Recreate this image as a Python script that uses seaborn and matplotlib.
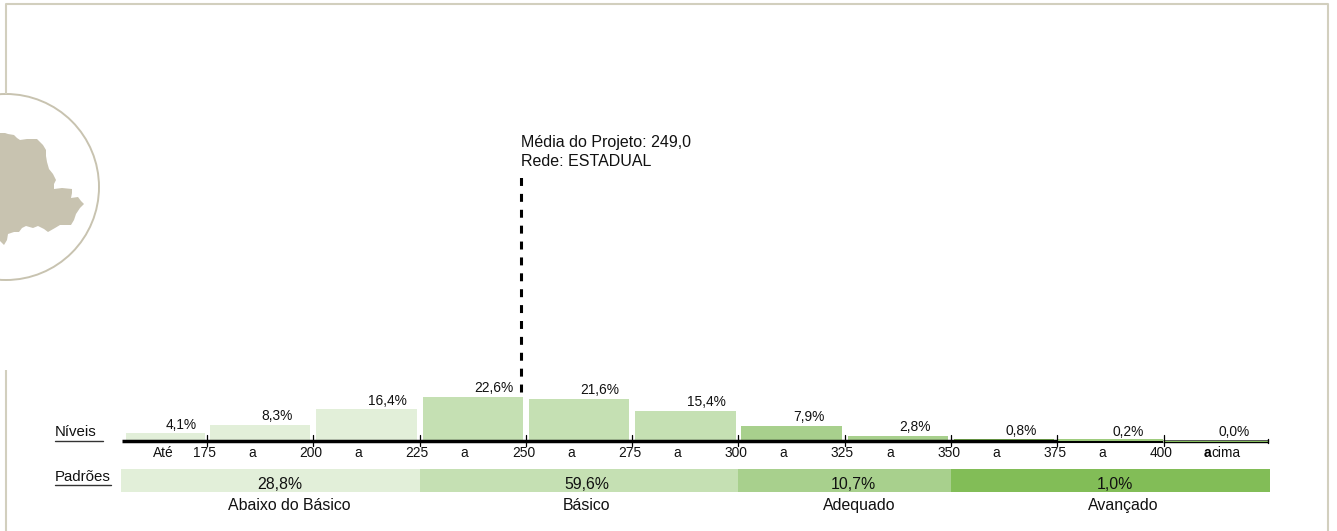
import matplotlib
matplotlib.use("Agg")
import matplotlib.pyplot as plt
from matplotlib.patches import Circle, Polygon
import pandas as pd
import seaborn as sns

sns.set_theme(style="white")
plt.rcParams["font.family"] = ["Liberation Sans", "DejaVu Sans"]

# ---- data ----
bin_labels = ["Até 175", "175-200", "200-225", "225-250", "250-275",
              "275-300", "300-325", "325-350", "350-375", "375-400", "acima"]
bin_values = [4.1, 8.3, 16.4, 22.6, 21.6, 15.4, 7.9, 2.8, 0.8, 0.2, 0.0]
bin_text = ["4,1%", "8,3%", "16,4%", "22,6%", "21,6%", "15,4%", "7,9%", "2,8%", "0,8%", "0,2%", "0,0%"]
bin_groups = ["a", "a", "a", "b", "b", "b", "c", "c", "d", "d", "d"]
tick_scores = [175, 200, 225, 250, 275, 300, 325, 350, 375, 400]
connector_labels = ["Até", "a", "a", "a", "a", "a", "a", "a", "a", "a"]
level_names = ["Abaixo do Básico", "Básico", "Adequado", "Avançado"]
level_pct = ["28,8%", "59,6%", "10,7%", "1,0%"]
level_start = [154.8, 225, 300, 350]
level_end = [225, 300, 350, 425]
level_colors = ["#e2efd9", "#c5e0b3", "#a8d08d", "#82bd57"]
mean_score = 248.9
mean_text = ["Média do Projeto: 249,0", "Rede: ESTADUAL"]

# ---- layout (pixels) ----
W, H = 1337, 531
PX_PER_SCORE = 106.3 / 25
PX_PER_PCT = 1.95
X175, Y0 = 207.0, 441.0
PCT_LABEL_PX = [279.5, 587, 853, 1115]
NAME_LABEL_PX = [289.5, 586, 859, 1123.5]
frame_color = "#d2cfbe"
map_color = "#c8c3b0"
MAP_OUTLINE = [(-5, 133), (5, 133), (8, 134), (14, 135), (17, 138), (20, 140), (27, 139), (37, 139), (40, 142),
               (43, 145), (46, 150), (46, 156), (47, 162), (49, 169), (53, 174), (56, 180), (54, 184), (54, 189),
               (62, 188), (72, 189), (72, 193), (71, 198), (78, 197), (81, 201), (84, 204), (80, 208), (76, 214),
               (74, 220), (71, 225), (60, 225), (55, 228), (48, 232), (44, 229), (38, 226), (33, 228), (26, 226),
               (22, 228), (19, 232), (14, 232), (8, 234), (7, 240), (4, 245), (0, 241), (-5, 240)]

fig = plt.figure(figsize=(W / 100, H / 100), dpi=100)
fig.patch.set_facecolor("white")

# pixel-space overlay for the page furniture
deco = fig.add_axes([0, 0, 1, 1], zorder=0)
deco.set_xlim(0, W)
deco.set_ylim(H, 0)
deco.axis("off")
deco.plot([6, 6, 1328, 1328], [94, 4, 4, H], color=frame_color, lw=1.5, solid_capstyle="butt")
deco.plot([6, 6], [370, H], color=frame_color, lw=1.5, solid_capstyle="butt")
deco.add_patch(Circle((6, 187), 93, fill=False, ec=map_color, lw=1.4))
deco.add_patch(Polygon(MAP_OUTLINE, closed=True, fc=map_color, ec="none"))

# data axes: score on x, percentage on y
ax = fig.add_axes([0, 0, 1, 1], zorder=1)
ax.patch.set_alpha(0)
ax.axis("off")

df = pd.DataFrame({"bin": bin_labels, "pct": bin_values, "group": bin_groups})
sns.barplot(data=df, x="bin", y="pct", hue="group", dodge=False, legend=False, width=0.945,
            palette=dict(zip("abcd", level_colors)), saturation=1, linewidth=0, ax=ax)
# category position i sits at the centre of the class (175 + 25 * (i - 0.5))
cat_lim = lambda px: (px - X175) / (PX_PER_SCORE * 25) + 0.5
ax.set_xlim(cat_lim(0), cat_lim(W))
ax.set_ylim(-(H - Y0) / PX_PER_PCT, Y0 / PX_PER_PCT)
# first class is open-ended and narrower
first = [p for p in ax.patches if abs(p.get_height() - bin_values[0]) < 1e-6][0]
first.set_x(cat_lim(126))
first.set_width(cat_lim(205) - cat_lim(126))

score = lambda s: (s - 175) / 25 + 0.5
px = lambda d: d / (PX_PER_SCORE * 25)
for i, (v, t) in enumerate(zip(bin_values, bin_text)):
    xpos = cat_lim(166) if i == 0 else i + px(1.5)
    ax.text(xpos, v + 8.5 / PX_PER_PCT, t, ha="left", va="center", fontsize=9.9, color="#111111")

# baseline and ticks
ax.plot([cat_lim(122), cat_lim(1057)], [0, 0], color="black", lw=2.5, solid_capstyle="butt", zorder=4)
ax.plot([cat_lim(1057), cat_lim(1163)], [-0.4, -0.4], color="black", lw=1.5, solid_capstyle="butt", zorder=4)
ax.plot([cat_lim(1163), cat_lim(1268)], [-0.6, -0.6], color="black", lw=1.0, solid_capstyle="butt", zorder=4)
ax.plot([cat_lim(1163), cat_lim(1268)], [0.7, 0.7], color="#555555", lw=0.7, solid_capstyle="butt", zorder=4)
ax.plot([cat_lim(1057), cat_lim(1163)], [0.5, 0.5], color=level_colors[3], lw=1.1, solid_capstyle="butt", zorder=4)
ax.plot([cat_lim(1163), cat_lim(1268)], [0.05, 0.05], color=level_colors[3], lw=0.7, solid_capstyle="butt", zorder=4)
ax.plot([cat_lim(1268), cat_lim(1268)], [-1.0, 1.0], color="black", lw=1.0, zorder=4)
for s in tick_scores:
    ax.plot([score(s)] * 2, [-2.8, 3.0], color="black", lw=0.9, zorder=5)
    ax.text(score(s) - px(2.5), -6.3, str(s), ha="center", va="center", fontsize=9.9, color="#111111")
for s, c in zip(tick_scores, connector_labels):
    xpos = cat_lim(163) if c == "Até" else score(s) - 0.5 - px(8)
    ax.text(xpos, -6.3, c, ha="center", va="center", fontsize=9.9, color="#111111")
ax.text(cat_lim(1204), -6.3, "a", ha="left", va="center", fontsize=9.9, color="black", fontweight="bold")
ax.text(cat_lim(1211), -6.3, "cima", ha="left", va="center", fontsize=9.9, color="#111111")

# performance-level band
band_top, band_h = -(469 - Y0) / PX_PER_PCT, 23 / PX_PER_PCT
for a, b, col, name, pct, xp, xn in zip(level_start, level_end, level_colors, level_names, level_pct,
                                        PCT_LABEL_PX, NAME_LABEL_PX):
    ax.barh(band_top - band_h / 2, score(b) - score(a), height=band_h, left=score(a), color=col,
            linewidth=0, zorder=2)
    ax.text(cat_lim(xp), -(484.5 - Y0) / PX_PER_PCT, pct, ha="center", va="center", fontsize=11.4,
            color="#111111", zorder=3)
    ax.text(cat_lim(xn), -(505.5 - Y0) / PX_PER_PCT, name, ha="center", va="center", fontsize=11.4,
            color="#111111")

# mean marker
mx = score(mean_score)
ax.plot([mx, mx], [(Y0 - 392) / PX_PER_PCT, (Y0 - 174) / PX_PER_PCT], color="black", lw=2.2,
        linestyle=(0, (2.6, 2.6)), zorder=5)
ax.text(mx, (Y0 - 142) / PX_PER_PCT, mean_text[0], ha="left", va="center", fontsize=11.5, color="#111111")
ax.text(mx, (Y0 - 161) / PX_PER_PCT, mean_text[1], ha="left", va="center", fontsize=11.5, color="#111111")

# row captions
deco.text(55, 432, "Níveis", ha="left", va="center", fontsize=10.8, color="#111111")
deco.plot([55, 103], [441, 441], color="#333333", lw=1.0)
deco.text(55, 477, "Padrões", ha="left", va="center", fontsize=10.8, color="#111111")
deco.plot([55, 111], [485, 485], color="#333333", lw=1.0)

fig.savefig("out.png", dpi=100)
